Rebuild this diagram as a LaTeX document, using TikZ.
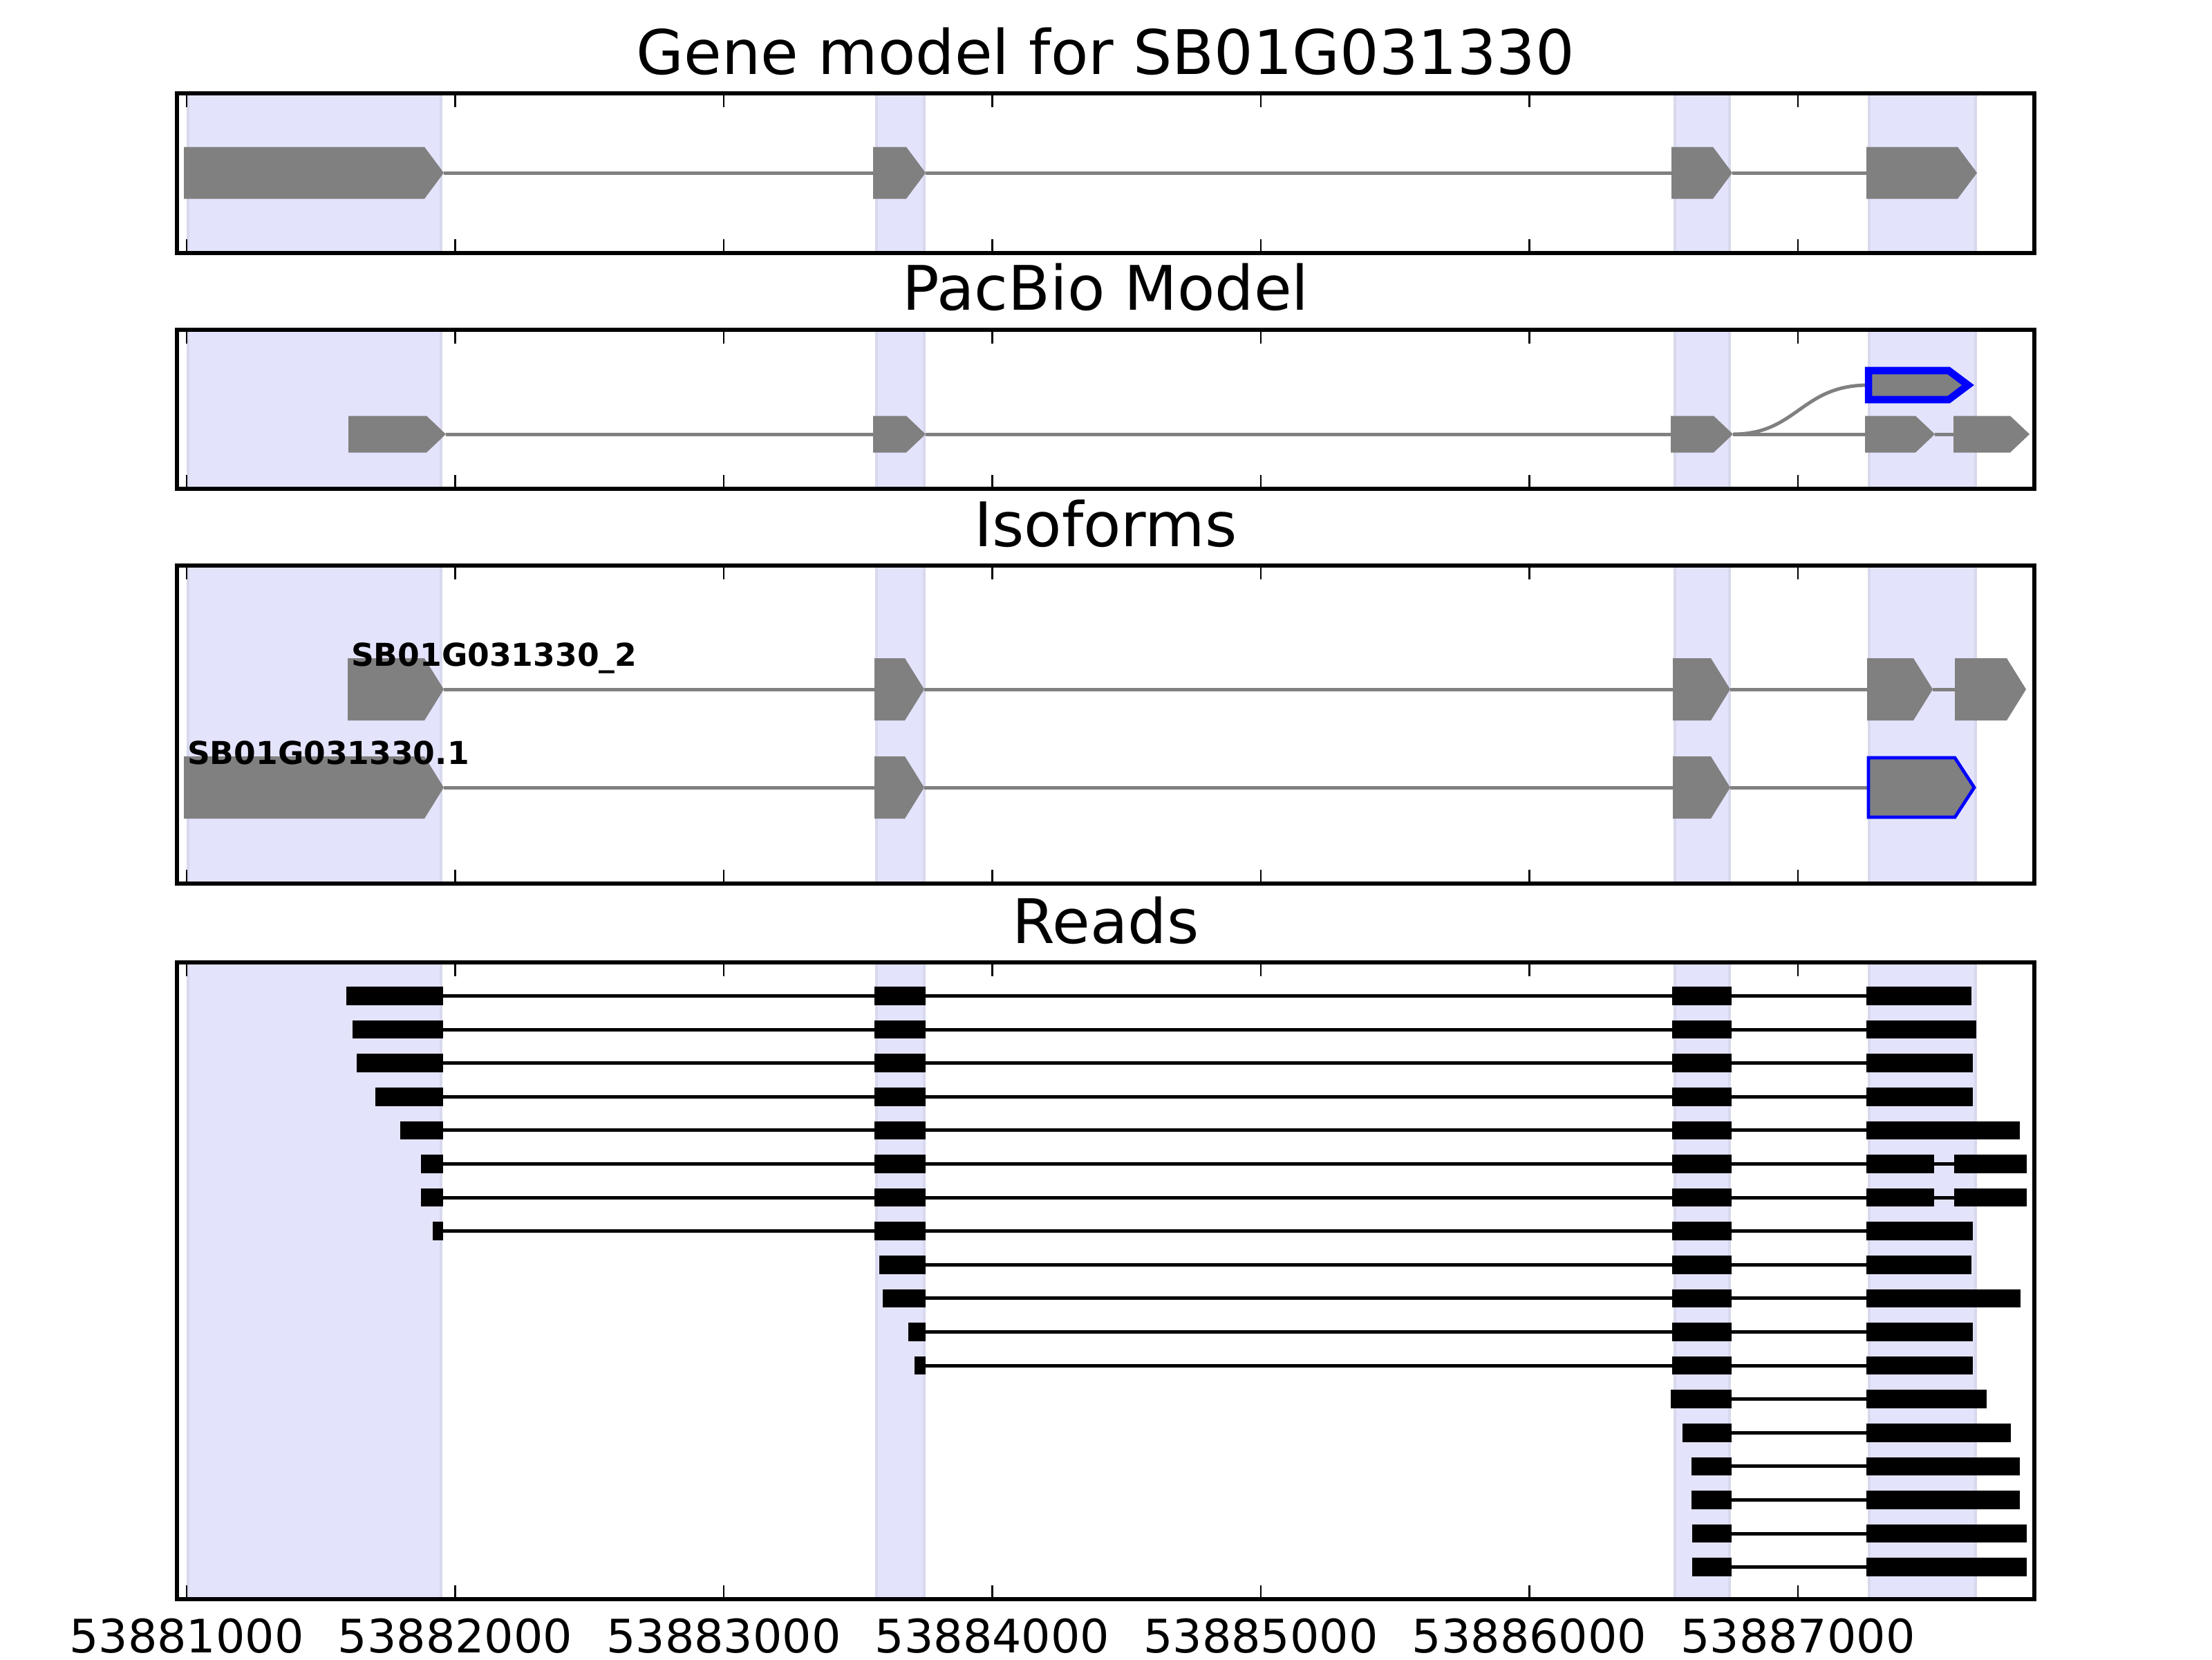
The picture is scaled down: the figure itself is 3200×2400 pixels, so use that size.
\documentclass[tikz,border=0pt]{standalone}
\usepackage{fontspec}
\setmainfont{DejaVu Sans}
\usepackage{tikz}

\definecolor{spanfill}{RGB}{227,227,252}
\definecolor{spanedge}{RGB}{216,216,238}
\definecolor{exongray}{RGB}{128,128,128}

\tikzstyle{panel} = [draw=black, line width=1pt]
\tikzstyle{axtick} = [draw=black, line width=0.5pt]
\tikzstyle{spanbox} = [fill=spanfill, draw=spanedge, line width=0.6pt]
\tikzstyle{intron} = [draw=exongray, line width=0.9pt]
\tikzstyle{exon} = [fill=exongray]
\tikzstyle{chosen} = [fill=exongray, draw=blue, line join=miter]
\tikzstyle{readline} = [draw=black, line width=0.9pt]
\tikzstyle{readblock} = [fill=black, draw=black, line width=0.3pt]
\tikzstyle{paneltitle} = [anchor=base, inner sep=0pt, font=\fontsize{16}{19}\selectfont]
\tikzstyle{ticklabel} = [anchor=base, inner sep=0pt, font=\fontsize{12}{14}\selectfont]
\tikzstyle{isolabel} = [anchor=base west, inner sep=0pt, font=\fontsize{8.2}{10}\selectfont\bfseries]

% exon arrow: start, tip, centre y, half height
\newcommand{\geneexon}[5][exon]{%
  \path[#1] (#2,#4-#5) -- (#3-28,#4-#5) -- (#3,#4) -- (#3-28,#4+#5) -- (#2,#4+#5) -- cycle;}

\begin{document}
\begin{tikzpicture}[x=0.18pt, y=-0.18pt]
\useasboundingbox (0,0) rectangle (3200,2400);

\foreach \top/\bot in {135/366, 477/707, 818/1278, 1392/2313}
  \foreach \a/\b in {272/638, 1268/1337, 2423/2502, 2704/2858}
    \path[spanbox] (\a,\top) rectangle (\b,\bot);

\node[paneltitle] (genetitle) at (1599.5,107) {Gene model for SB01G031330};
\node[paneltitle] (pacbiotitle) at (1599.5,448) {PacBio Model};
\node[paneltitle] (isotitle) at (1599.5,790) {Isoforms};
\node[paneltitle] (readstitle) at (1599.5,1364) {Reads};

% gene model
\draw[intron] (642,250) -- (1263,250) (1339,250) -- (2418,250) (2506,250) -- (2700,250);
\geneexon{266}{642}{250}{37.5}
\geneexon{1263}{1339}{250}{37.5}
\geneexon{2418}{2506}{250}{37.5}
\geneexon{2700}{2860}{250}{37.5}

% pacbio model
\draw[intron] (645,628) -- (1263,628) (1339,628) -- (2417,628) (2507,628) -- (2698,628) (2799,628) -- (2826,628);
\draw[intron] (2507,628) .. controls (2600,628) and (2605,557) .. (2703,557);
\geneexon{504}{645}{628}{26.5}
\geneexon{1263}{1339}{628}{26.5}
\geneexon{2417}{2507}{628}{26.5}
\geneexon{2698}{2799}{628}{26.5}
\geneexon{2826}{2936}{628}{26.5}
\geneexon[chosen, line width=1.9pt]{2703}{2847}{557}{21}

% isoforms
\draw[intron] (642,997) -- (1265,997) (1337,997) -- (2420,997) (2503,997) -- (2701,997) (2796,997) -- (2828,997);
\geneexon{503}{642}{997}{45}
\geneexon{1265}{1337}{997}{45}
\geneexon{2420}{2503}{997}{45}
\geneexon{2701}{2796}{997}{45}
\geneexon{2828}{2931}{997}{45}
\node[isolabel] (iso2) at (507,963) {SB01G031330\_2};

\draw[intron] (642,1139) -- (1265,1139) (1337,1139) -- (2420,1139) (2503,1139) -- (2703,1139);
\geneexon{266}{642}{1139}{45}
\geneexon{1265}{1337}{1139}{45}
\geneexon{2420}{2503}{1139}{45}
\geneexon[chosen, line width=0.85pt]{2703}{2856}{1139}{43}
\node[isolabel] (iso1) at (270,1105) {SB01G031330.1};

% reads
\foreach \r/\xa/\xb/\blk in {
  1/502/2851/{502/640,1266/1338,2420/2504,2701/2851},
  2/511/2858/{511/640,1266/1338,2420/2504,2701/2858},
  3/517/2853/{517/640,1266/1338,2420/2504,2701/2853},
  4/544/2853/{544/640,1266/1338,2420/2504,2701/2853},
  5/580/2921/{580/640,1266/1338,2420/2504,2701/2921},
  6/610/2931/{610/640,1266/1338,2420/2504,2701/2797,2828/2931},
  7/610/2931/{610/640,1266/1338,2420/2504,2701/2797,2828/2931},
  8/627/2853/{627/640,1266/1338,2420/2504,2701/2853},
  9/1273/2851/{1273/1338,2420/2504,2701/2851},
  10/1278/2922/{1278/1338,2420/2504,2701/2922},
  11/1315/2853/{1315/1338,2420/2504,2701/2853},
  12/1324/2853/{1324/1338,2420/2504,2701/2853},
  13/2418/2873/{2418/2504,2701/2873},
  14/2435/2908/{2435/2504,2701/2908},
  15/2448/2921/{2448/2504,2701/2921},
  16/2448/2921/{2448/2504,2701/2921},
  17/2449/2931/{2449/2504,2701/2931},
  18/2449/2931/{2449/2504,2701/2931}}{
  \pgfmathsetmacro{\yr}{1440.5+(\r-1)*48.6}
  \draw[readline] (\xa,\yr) -- (\xb,\yr);
  \foreach \s/\e in \blk
    \path[readblock] (\s,\yr-12.5) rectangle (\e,\yr+12.5);
}

\foreach \top/\bot in {135/366, 477/707, 818/1278, 1392/2313} {
  \foreach \k in {0,...,6} {
    \pgfmathsetmacro{\tx}{270+388.5*\k}
    \draw[axtick] (\tx,\top) -- (\tx,\top+20) (\tx,\bot) -- (\tx,\bot-20);
  }
  \draw[panel] (256,\top) rectangle (2943,\bot);
}

\foreach \k in {1,...,7} {
  \pgfmathsetmacro{\tx}{270+388.5*(\k-1)}
  \node[ticklabel] (tick\k) at (\tx,2390) {5388\k000};
}
\end{tikzpicture}
\end{document}
